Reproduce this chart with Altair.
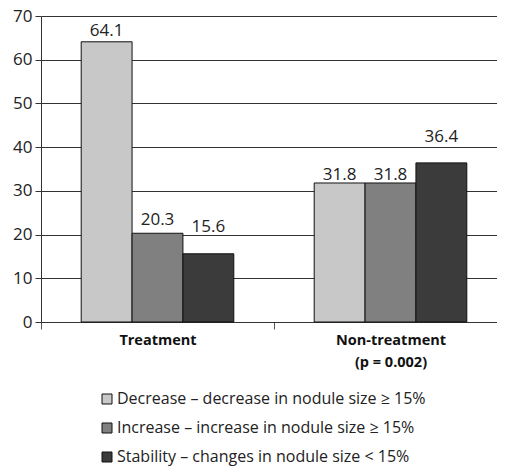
import altair as alt
import pandas as pd

groups = ["Treatment", "Non-treatment"]
series = [
    "Decrease – decrease in nodule size ≥ 15%",
    "Increase – increase in nodule size ≥ 15%",
    "Stability – changes in nodule size < 15%",
]
treatment_vals = [64.1, 20.3, 15.6]
nontreatment_vals = [31.8, 31.8, 36.4]
# where each value label sits (in data units)
treatment_label_at = [65.4, 22.2, 20.7]
nontreatment_label_at = [32.5, 32.5, 41.2]
colors = ["#c8c8c8", "#808080", "#3b3b3b"]
y_ticks = [0, 10, 20, 30, 40, 50, 60, 70]

rows = []
for g, vals, lab in zip(groups, [treatment_vals, nontreatment_vals],
                        [treatment_label_at, nontreatment_label_at]):
    for s, v, la in zip(series, vals, lab):
        rows.append({"group": g, "series": s, "value": v, "label_at": la,
                     "label": f"{v:.1f}"})
df = pd.DataFrame(rows)

FONT = "Open Sans"

x = alt.X(
    "group:N",
    sort=groups,
    scale=alt.Scale(range=[0, 466], paddingInner=0, paddingOuter=0),
    axis=alt.Axis(
        title=None,
        labelAngle=0,
        tickBand="extent",
        tickSize=7,
        tickColor="#555",
        domainColor="#333",
        labelFont=FONT,
        labelFontSize=14.5,
        labelFontWeight="bold",
        labelColor="#111",
        labelPadding=4,
        labelLineHeight=22,
        labelExpr="datum.value == 'Non-treatment' ? ['Non-treatment', '(p = 0.002)'] : datum.value",
    ),
)
xoff = alt.XOffset(
    "series:N",
    sort=series,
    scale=alt.Scale(paddingInner=0, paddingOuter=0.79),
)
yscale = alt.Scale(domain=[0, 70], nice=False)
y = alt.Y(
    "value:Q",
    scale=yscale,
    axis=alt.Axis(
        title=None,
        values=y_ticks,
        grid=True,
        gridColor="#333",
        gridOpacity=1,
        domainColor="#333",
        tickColor="#333",
        tickSize=6,
        labelPadding=3,
        labelFont=FONT,
        labelFontSize=17,
        labelColor="#222",
    ),
)

bars = alt.Chart(df).mark_bar(stroke="#111", strokeWidth=1).encode(
    x=x,
    xOffset=xoff,
    y=y,
    color=alt.Color(
        "series:N",
        sort=series,
        scale=alt.Scale(domain=series, range=colors),
        legend=alt.Legend(
            title=None,
            orient="none",
            legendX=58,
            legendY=375,
            symbolType="square",
            symbolSize=100,
            symbolStrokeColor="#111",
            symbolStrokeWidth=1,
            symbolOpacity=1,
            labelFont=FONT,
            labelFontSize=16,
            labelColor="#222",
            labelOffset=2,
            rowPadding=13,
            labelLimit=450,
        ),
    ),
)

text = alt.Chart(df).mark_text(
    baseline="alphabetic", font=FONT, fontSize=17, color="#222"
).encode(x=x, xOffset=xoff, y=alt.Y("label_at:Q", scale=yscale), text="label:N")

chart = (
    alt.layer(bars, text)
    .properties(
        width=456,
        height=306,
        padding={"left": 33, "top": 8, "right": 0, "bottom": 145},
        autosize=alt.AutoSizeParams(type="none"),
    )
    .configure_view(stroke=None)
    .configure(background="white")
)
chart.save("out.html", embed_options={"renderer": "svg", "actions": False})
